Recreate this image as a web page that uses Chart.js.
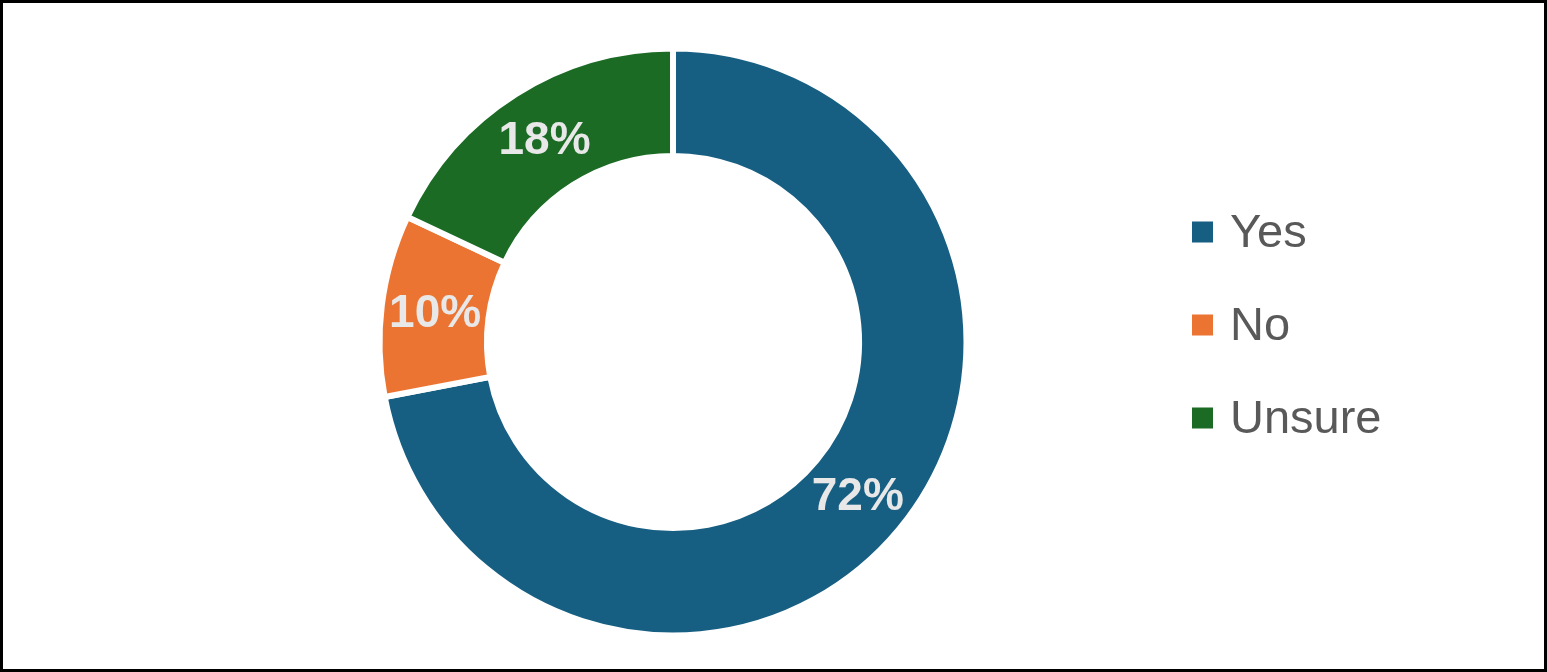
<!DOCTYPE html>
<html>
<head>
<meta charset="utf-8">
<script src="https://cdn.jsdelivr.net/npm/chart.js@4.4.0/dist/chart.umd.min.js"></script>
<style>
  html, body { margin: 0; padding: 0; background: #ffffff; }
  #frame { position: relative; width: 1547px; height: 672px; box-sizing: border-box; border: 3px solid #000; background: #fff; }
  #wrap { position: absolute; left: 0; top: 0; width: 1541px; height: 666px; }
</style>
</head>
<body>
<div id="frame"><div id="wrap"><canvas id="c"></canvas></div></div>
<script>
const categories = ["Yes", "No", "Unsure"];
const shares = [72, 10, 18];
const valueLabels = ["72%", "10%", "18%"];
const sliceColors = ["#175f82", "#eb7433", "#1b6b25"];

const sliceLabels = {
  id: 'sliceLabels',
  afterDatasetsDraw(chart) {
    const ctx = chart.ctx;
    const meta = chart.getDatasetMeta(0);
    ctx.save();
    ctx.font = 'bold 46px "Liberation Sans", Arial, sans-serif';
    ctx.fillStyle = '#e8e8e8';
    ctx.textAlign = 'center';
    ctx.textBaseline = 'middle';
    meta.data.forEach((arc, i) => {
      const p = arc.getCenterPoint();
      ctx.fillText(valueLabels[i], p.x, p.y + 2);
    });
    ctx.restore();
  }
};

const sideLegend = {
  id: 'sideLegend',
  afterDraw(chart) {
    const ctx = chart.ctx;
    const x0 = 1189, y0 = 229, step = 93, box = 21;
    ctx.save();
    ctx.font = '47px "Liberation Sans", Arial, sans-serif';
    ctx.textBaseline = 'middle';
    ctx.textAlign = 'left';
    categories.forEach((name, i) => {
      const y = y0 + i * step;
      ctx.fillStyle = sliceColors[i];
      ctx.fillRect(x0, y - box / 2, box, box);
      ctx.fillStyle = '#595959';
      ctx.fillText(name, x0 + box + 17, y + 2);
    });
    ctx.restore();
  }
};

new Chart(document.getElementById('c'), {
  type: 'doughnut',
  data: {
    labels: categories,
    datasets: [{
      data: shares,
      backgroundColor: sliceColors,
      borderColor: '#ffffff',
      borderWidth: 6,
      hoverOffset: 0
    }]
  },
  options: {
    responsive: true,
    maintainAspectRatio: false,
    animation: false,
    radius: 293.5,
    cutout: '63.4%',
    layout: { padding: { left: 0, right: 201, top: 12, bottom: 0 } },
    plugins: {
      legend: { display: false },
      tooltip: { enabled: false }
    }
  },
  plugins: [sliceLabels, sideLegend]
});
</script>
</body>
</html>
